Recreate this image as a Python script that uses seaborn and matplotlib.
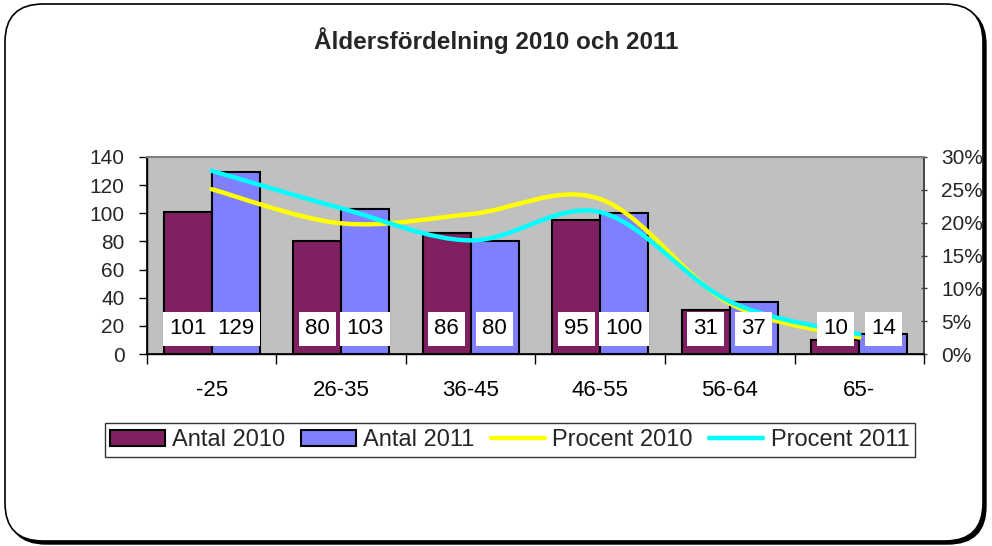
import matplotlib
matplotlib.use("Agg")
import matplotlib.pyplot as plt
import seaborn as sns
import pandas as pd
from matplotlib.patches import FancyBboxPatch, Patch, PathPatch
from matplotlib.lines import Line2D
from matplotlib.path import Path

# --- DATA ---
categories = ["-25", "26-35", "36-45", "46-55", "56-64", "65-"]
antal_2010 = [101, 80, 86, 95, 31, 10]
antal_2011 = [129, 103, 80, 100, 37, 14]
procent_2010 = [25.1, 19.9, 21.3, 23.6, 7.7, 2.5]
procent_2011 = [27.9, 22.2, 17.3, 21.6, 8.0, 3.0]

color_2010 = "#802060"
color_2011 = "#8080FF"
line_2010 = "#FFFF00"
line_2011 = "#00FFFF"

sns.set_theme(style="white")
plt.rcParams["font.family"] = ["Liberation Sans", "DejaVu Sans"]

df = pd.DataFrame({
    "Ålder": categories * 2,
    "Antal": antal_2010 + antal_2011,
    "Serie": ["Antal 2010"] * 6 + ["Antal 2011"] * 6,
})

fig = plt.figure(figsize=(9.92, 5.46), dpi=100)

# rounded outer frame with shadow
shadow = FancyBboxPatch((0.08, 0.02), 9.78, 5.37, boxstyle="round,pad=0,rounding_size=0.38",
                        transform=fig.dpi_scale_trans, facecolor="black", edgecolor="black", zorder=-2)
frame = FancyBboxPatch((0.05, 0.05), 9.78, 5.37, boxstyle="round,pad=0,rounding_size=0.38",
                       transform=fig.dpi_scale_trans, facecolor="white", edgecolor="black",
                       linewidth=1.2, zorder=-1)
fig.patches.extend([shadow, frame])

ax = fig.add_axes([0.148, 0.3516, 0.7835, 0.3609])
ax.set_facecolor("#C0C0C0")

sns.barplot(data=df, x="Ålder", y="Antal", hue="Serie", ax=ax,
            palette={"Antal 2010": color_2010, "Antal 2011": color_2011},
            saturation=1, width=0.74, edgecolor="black", linewidth=1.5,
            legend=False, zorder=2)

ax.set_xlim(-0.5, 5.5)
ax.set_ylim(0, 140)
ax.set_yticks(range(0, 141, 20))
ax.set_xlabel("")
ax.set_ylabel("")

ax.set_xticks(range(6))
ax.set_xticklabels(categories)
ax.set_xticks([i - 0.5 for i in range(7)], minor=True)
ax.tick_params(axis="x", which="major", length=0, pad=19, labelsize=16, colors="black")
ax.tick_params(axis="x", which="minor", length=7, width=1, color="black", direction="out", bottom=True)
ax.tick_params(axis="y", length=6, width=1, color="black", direction="out", left=True,
               labelsize=15, pad=10)

ax2 = ax.twinx()
ax2.set_ylim(0, 30)
ax2.set_yticks(range(0, 31, 5))
ax2.set_yticklabels([f"{v}%" for v in range(0, 31, 5)])
ax2.tick_params(axis="y", length=5, width=1, color="#404040", direction="inout", right=True,
                labelsize=15, pad=10)
ax2.grid(False)
ax.grid(False)


def smooth_path(xs, ys):
    # Excel-like Bezier smoothing through the data points
    n = len(xs)
    verts = [(xs[0], ys[0])]
    codes = [Path.MOVETO]
    for i in range(n - 1):
        p0 = max(i - 1, 0)
        p3 = min(i + 2, n - 1)
        c1 = (xs[i] + (xs[i + 1] - xs[p0]) / 6, ys[i] + (ys[i + 1] - ys[p0]) / 6)
        c2 = (xs[i + 1] - (xs[p3] - xs[i]) / 6, ys[i + 1] - (ys[p3] - ys[i]) / 6)
        verts += [c1, c2, (xs[i + 1], ys[i + 1])]
        codes += [Path.CURVE4] * 3
    return Path(verts, codes)


xs = list(range(len(categories)))
for vals, col in [(procent_2010, line_2010), (procent_2011, line_2011)]:
    ax2.add_patch(PathPatch(smooth_path(xs, vals), facecolor="none", edgecolor=col,
                            linewidth=3.2, capstyle="round", joinstyle="round", zorder=3))

# data labels at the base of each bar
for cont, vals in zip(ax.containers, [antal_2010, antal_2011]):
    for bar, v in zip(cont, vals):
        cx = bar.get_x() + bar.get_width() / 2
        ax2.text(cx, 17.8, str(v), transform=ax.transData, ha="center", va="center",
                 fontsize=16, color="black", zorder=5,
                 bbox=dict(boxstyle="square,pad=0.28", facecolor="white", edgecolor="none"))

for side in ["left", "bottom"]:
    ax.spines[side].set_color("black")
    ax.spines[side].set_linewidth(1)
for side in ["top", "right"]:
    ax.spines[side].set_color("#808080")
for side in ["left", "bottom"]:
    ax2.spines[side].set_color("black")
ax2.spines["top"].set_color("#808080")
ax2.spines["top"].set_linewidth(1.5)
ax2.spines["right"].set_color("#404040")

fig.text(0.5, 0.925, "Åldersfördelning 2010 och 2011", ha="center", va="center",
         fontsize=17.5, fontweight="bold")

handles = [
    Patch(facecolor=color_2010, edgecolor="black", linewidth=1.5, label="Antal 2010"),
    Patch(facecolor=color_2011, edgecolor="black", linewidth=1.5, label="Antal 2011"),
    Line2D([], [], color=line_2010, linewidth=3.2, label="Procent 2010"),
    Line2D([], [], color=line_2011, linewidth=3.2, label="Procent 2011"),
]
leg = fig.legend(handles=handles, loc="center", bbox_to_anchor=(0.514, 0.194), ncol=4,
                 fontsize=17, frameon=True, fancybox=False, edgecolor="black",
                 handlelength=2.3, handleheight=0.7, handletextpad=0.3, columnspacing=0.7,
                 borderpad=0.25, borderaxespad=0)
leg.get_frame().set_linewidth(1)

fig.savefig("out.png", dpi=100)
